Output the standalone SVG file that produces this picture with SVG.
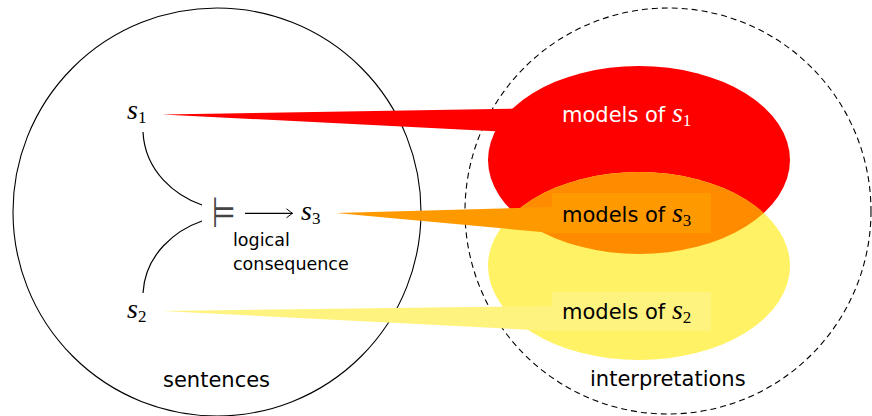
<svg xmlns="http://www.w3.org/2000/svg" width="872" height="416" viewBox="0 0 872 416">
<style>
.lbl{font-family:"DejaVu Sans",sans-serif;font-size:21px;fill:#000}
.small{font-family:"DejaVu Sans",sans-serif;font-size:17.5px;fill:#000}
.m{font-family:"Liberation Serif",serif;font-style:italic;font-size:28px}
.sub{font-family:"Liberation Serif",serif;font-style:normal;font-size:17px}
.conn{fill:none;stroke:#000;stroke-width:1.2}
</style>
<defs>
<marker id="arr" markerWidth="12" markerHeight="12" refX="0" refY="0" viewBox="-8 -6 10 12" orient="auto" markerUnits="userSpaceOnUse">
<path d="M-6,-4.5 Q-1.5,-1 0,0 Q-1.5,1 -6,4.5" fill="none" stroke="#000" stroke-width="1"/>
</marker>
<clipPath id="redClip"><ellipse cx="639" cy="160" rx="151" ry="94"/></clipPath>
</defs>

<g id="sentences">
<circle cx="217" cy="212" r="204" fill="none" stroke="#000" stroke-width="1.1"/>
<text class="lbl" x="163" y="387">sentences</text>
</g>

<g id="interpretations">
<circle cx="668" cy="211" r="203" fill="none" stroke="#000" stroke-width="1.1" stroke-dasharray="6 4"/>
<text class="lbl" x="590" y="386">interpretations</text>
</g>

<g id="models-s1-region">
<ellipse cx="639" cy="160" rx="151" ry="94" fill="#FF0000"/>
</g>
<g id="models-s2-region">
<ellipse cx="639" cy="266" rx="151" ry="94" fill="#FFF264"/>
</g>
<g id="models-s3-region">
<ellipse cx="639" cy="266" rx="151" ry="94" fill="#FF8C00" clip-path="url(#redClip)"/>
</g>

<g id="callout-s1">
<polygon points="162,114.5 552,108 552,134" fill="#FF0000"/>
<rect x="552" y="94" width="159" height="40" fill="#FF0000"/>
<text class="lbl" x="562" y="122" style="fill:#fff">models of <tspan class="m" style="fill:#fff">s</tspan><tspan class="sub" dy="4" style="fill:#fff">1</tspan></text>
</g>

<g id="callout-s3">
<polygon points="336,213 552,207 552,233" fill="#FF9900"/>
<rect x="552" y="193" width="159" height="40" fill="#FF9900"/>
<text class="lbl" x="562" y="222">models of <tspan class="m">s</tspan><tspan class="sub" dy="4">3</tspan></text>
</g>

<g id="callout-s2">
<polygon points="162,311 552,306 552,331" fill="#FFF380"/>
<rect x="552" y="292" width="159" height="39" fill="#FFF380"/>
<text class="lbl" x="562" y="319">models of <tspan class="m">s</tspan><tspan class="sub" dy="4">2</tspan></text>
</g>

<g id="s1"><text class="m" x="127" y="119">s<tspan class="sub" dy="4">1</tspan></text></g>
<g id="s2"><text class="m" x="127" y="318">s<tspan class="sub" dy="4">2</tspan></text></g>
<g id="s3"><text class="m" x="301" y="219.5">s<tspan class="sub" dy="4">3</tspan></text></g>

<g id="models">
<text transform="translate(212,227) scale(0.9,1.4)" style="font-family:'DejaVu Sans',sans-serif;font-size:30px;fill:#444">⊨</text>
<text class="small" x="233" y="246">logical</text>
<text class="small" x="233" y="270">consequence</text>
</g>

<g id="connectors">
<path class="conn" d="M143,132 C145,172 176,196 202,205"/>
<path class="conn" d="M202,221 C176,230 145,254 143,293"/>
<line class="conn" x1="245" y1="213.3" x2="292.5" y2="213.3" marker-end="url(#arr)" stroke-width="1"/>
</g>
</svg>
